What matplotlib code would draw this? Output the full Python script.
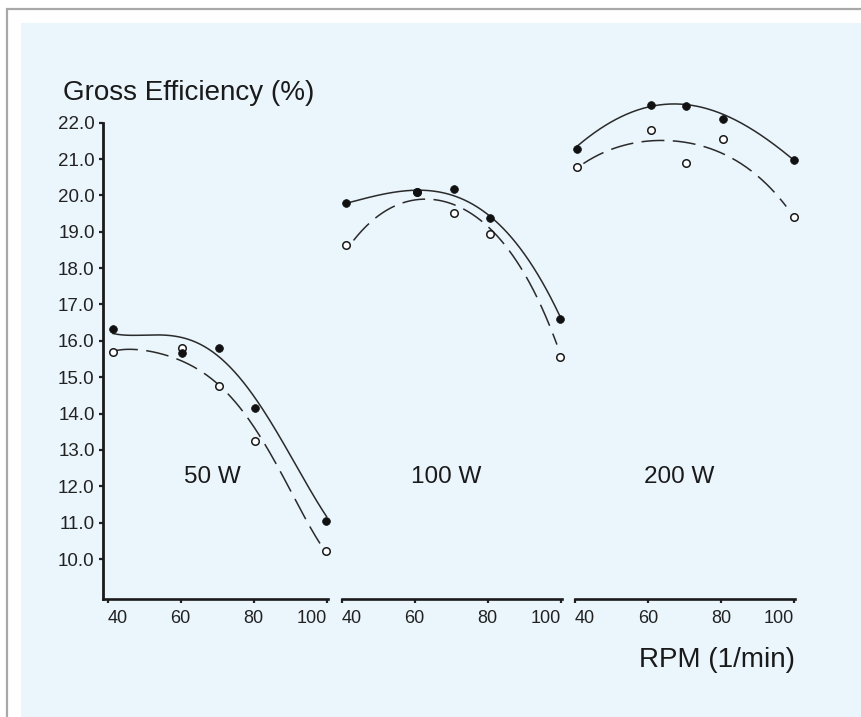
import numpy as np
import matplotlib
matplotlib.use("Agg")
import matplotlib.pyplot as plt
from matplotlib.patches import Rectangle

plt.rcParams['font.family'] = ['Liberation Sans', 'DejaVu Sans']

# ---- data ----
panel_labels = ["50 W", "100 W", "200 W"]

# measured points
rpm_50 = [41.4, 60.5, 70.5, 80.4, 99.8]
filled_50 = [16.33, 15.66, 15.81, 14.15, 11.06]
open_50 = [15.70, 15.80, 14.75, 13.25, 10.21]

rpm_100 = [41.3, 60.7, 70.8, 80.7, 99.9]
filled_100 = [19.78, 20.10, 20.17, 19.38, 16.59]
open_100 = [18.64, 20.08, 19.51, 18.94, 15.56]

rpm_200 = [40.5, 60.7, 70.4, 80.6, 100.0]
filled_200 = [21.27, 22.49, 22.46, 22.09, 20.97]
open_200 = [20.77, 21.80, 20.88, 21.54, 19.41]

# fitted curves, values
solid_rpm_50 = [41.5, 48.4, 55.7, 62.1, 67.6, 73.0, 80.8, 87.2, 93.6, 100.0]
solid_val_50 = [16.19, 16.19, 16.13, 16.00, 15.79, 15.43, 14.28, 13.36, 12.26, 11.16]
dash_rpm_50 = [42.0, 51.1, 54.8, 61.2, 63.9, 69.4, 77.2, 83.6, 90.0, 98.2]
dash_val_50 = [15.73, 15.70, 15.68, 15.38, 15.25, 14.92, 14.01, 13.09, 11.90, 10.43]

solid_rpm_100 = [41.3, 50.6, 60.7, 70.7, 80.7, 89.9, 99.9]
solid_val_100 = [19.78, 20.03, 20.12, 20.01, 19.42, 18.41, 16.66]
dash_rpm_100 = [43.3, 48.8, 58.8, 64.3, 69.8, 78.0, 87.1, 94.4, 99.0]
dash_val_100 = [18.77, 19.32, 19.87, 19.89, 19.78, 19.32, 18.31, 17.03, 15.89]

solid_rpm_200 = [40.5, 50.5, 60.5, 70.6, 80.6, 89.8, 99.8]
solid_val_200 = [21.34, 22.07, 22.42, 22.49, 22.26, 21.71, 20.99]
dash_rpm_200 = [42.3, 51.4, 61.4, 68.8, 77.0, 87.0, 91.6, 97.9]
dash_val_200 = [20.88, 21.30, 21.52, 21.50, 21.25, 20.79, 20.40, 19.69]

x_ticks = [40, 60, 80, 100]
y_ticks = [10.0, 11.0, 12.0, 13.0, 14.0, 15.0, 16.0, 17.0, 18.0, 19.0, 20.0, 21.0, 22.0]

panels = [
    (rpm_50, filled_50, open_50, solid_rpm_50, solid_val_50, dash_rpm_50, dash_val_50),
    (rpm_100, filled_100, open_100, solid_rpm_100, solid_val_100, dash_rpm_100, dash_val_100),
    (rpm_200, filled_200, open_200, solid_rpm_200, solid_val_200, dash_rpm_200, dash_val_200),
]
fit_degree = [5, 4, 4]

# ---- figure ----
W, H = 861, 717
fig = plt.figure(figsize=(W / 100, H / 100), dpi=100)
fig.patch.set_facecolor("white")

# frame and light blue panel background
fig.patches.append(Rectangle((7 / W, -0.1), 1.2, 1.1 - 9 / H, transform=fig.transFigure,
                             facecolor="white", edgecolor="#a8a8a8", linewidth=1.6, zorder=-3))
fig.patches.append(Rectangle((21 / W, -0.1), 1.2, 1.1 - 23 / H, transform=fig.transFigure,
                             facecolor="#eaf5fc", edgecolor="none", zorder=-2))

ax_bottom = (H - 598.7) / H
ax_height = (598.7 - 86.3) / H
ylim = (8.91, 23.0)

layouts = [
    (103, 328, (38.7, 100.4)),
    (341.5, 561.7, (40.0, 100.3)),
    (575, 795, (40.0, 100.3)),
]


def smooth(xr, yr, deg):
    xr = np.asarray(xr, float)
    xm = xr.mean()
    c = np.polyfit(xr - xm, yr, deg)
    xs = np.linspace(xr[0], xr[-1], 200)
    return xs, np.polyval(c, xs - xm)


for i, (pdata, (x0, x1, xlim)) in enumerate(zip(panels, layouts)):
    rpm, filled, opn, srpm, sval, drpm, dval = pdata
    ax = fig.add_axes([x0 / W, ax_bottom, (x1 - x0) / W, ax_height])
    ax.set_facecolor("none")
    ax.set_xlim(*xlim)
    ax.set_ylim(*ylim)
    for s in ["top", "right"]:
        ax.spines[s].set_visible(False)
    ax.spines["bottom"].set_linewidth(1.9)
    if i == 0:
        ax.spines["left"].set_linewidth(2.0)
        ax.spines["left"].set_bounds(ylim[0], 22.0)
        ax.set_yticks(y_ticks)
        ax.set_yticklabels([f"{v:.1f}" for v in y_ticks], fontsize=13.5)
        ax.tick_params(axis="y", direction="out", length=3, width=1.6, pad=3, colors="#222222")
    else:
        ax.spines["left"].set_visible(False)
        ax.set_yticks([])
    ax.set_xticks(x_ticks)
    ax.set_xticklabels([str(v) for v in x_ticks], fontsize=13)
    ax.tick_params(axis="x", direction="out", length=3, width=1.6, pad=5, colors="#222222")
    labs = ax.get_xticklabels()
    labs[0].set_ha("left")
    labs[-1].set_ha("right")
    for sp in ax.spines.values():
        sp.set_color("#1a1a1a")

    xs, ys = smooth(srpm, sval, fit_degree[i])
    ax.plot(xs, ys, color="#2a2a2a", lw=1.1, clip_on=False, zorder=2)
    xs, ys = smooth(drpm, dval, fit_degree[i])
    ax.plot(xs, ys, color="#2a2a2a", lw=1.1, dashes=(15, 5.5), clip_on=False, zorder=2)

    ax.plot(rpm, opn, "o", ms=5.4, mfc="white", mec="#1a1a1a", mew=1.1, clip_on=False, zorder=3)
    ax.plot(rpm, filled, "o", ms=5.6, mfc="#111111", mec="#111111", mew=0.5, clip_on=False, zorder=4)

    ax.text(68.6, 12.26, panel_labels[i], fontsize=17.5, ha="center", va="center", color="#1a1a1a")

fig.text(63 / W, (H - 100) / H, "Gross Efficiency (%)", fontsize=20, ha="left", va="baseline", color="#1a1a1a")
fig.text(795 / W, (H - 667) / H, "RPM (1/min)", fontsize=20, ha="right", va="baseline", color="#1a1a1a")

fig.savefig("out.png", dpi=100, facecolor=fig.get_facecolor())
